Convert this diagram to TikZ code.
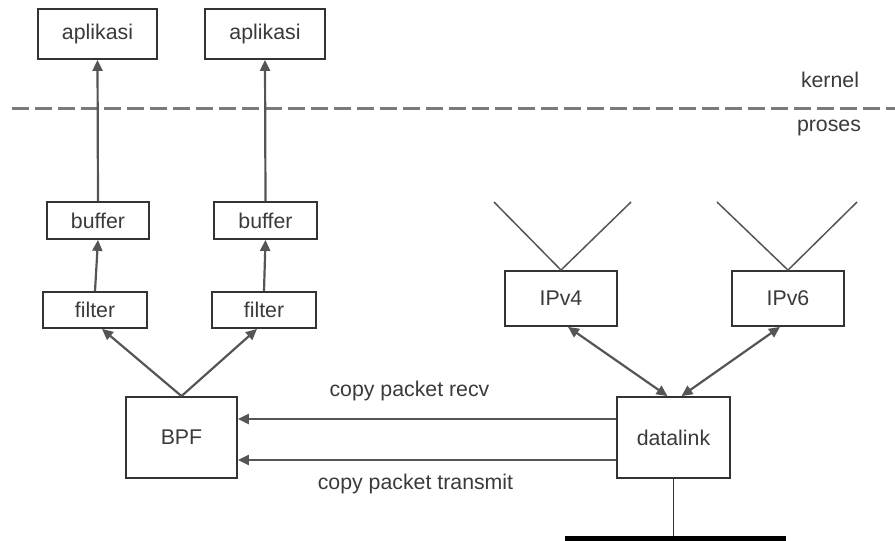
\documentclass[tikz,border=0pt]{standalone}
\usepackage{fontspec}
\setmainfont{Liberation Sans}
\usetikzlibrary{arrows.meta}
\definecolor{txt}{HTML}{3A3A3A}
\definecolor{edge}{HTML}{333333}
\definecolor{ln}{HTML}{555555}
\definecolor{dsh}{HTML}{7A7A7A}
\begin{document}
\begin{tikzpicture}[x=1pt,y=-1pt,
  box/.style={draw=edge,line width=1.8pt,fill=white,inner sep=0pt,text=txt,
    font=\fontsize{21.3}{25}\selectfont},
  lbl/.style={text=txt,inner sep=0pt,font=\fontsize{21.3}{25}\selectfont},
  arr/.style={draw=ln,line width=2.2pt,-{Triangle[length=11pt,width=10pt]}},
  darr/.style={draw=ln,line width=2.2pt,{Triangle[length=11pt,width=10pt]}-{Triangle[length=11pt,width=10pt]}},
  vline/.style={draw=ln,line width=1.5pt}]
\useasboundingbox (0,0) rectangle (895,541);
% nodes
\node[box,minimum width=119pt,minimum height=50pt] (app1) at (97.5,34) {aplikasi};
\node[box,minimum width=120pt,minimum height=50pt] (app2) at (265,34) {aplikasi};
\node[box,minimum width=102pt,minimum height=37pt] (buf1) at (98,220.5) {buffer};
\node[box,minimum width=103pt,minimum height=37pt] (buf2) at (265.5,220.5) {buffer};
\node[box,minimum width=104pt,minimum height=36pt] (fil1) at (95,310) {filter};
\node[box,minimum width=104pt,minimum height=36pt] (fil2) at (264,310) {filter};
\node[box,minimum width=111pt,minimum height=81pt] (bpf) at (181.5,437.5) {BPF};
\node[box,minimum width=113pt,minimum height=81pt] (dl) at (673.5,437.5) {datalink};
\node[box,minimum width=112pt,minimum height=55pt] (ip4) at (561,298.5) {IPv4};
\node[box,minimum width=112pt,minimum height=55pt] (ip6) at (788,298.5) {IPv6};
\node[fill=black,draw=none,minimum width=221pt,minimum height=10pt,inner sep=0pt] (bar) at (675.5,541) {};
% labels
\node[lbl] (kernel) at (830,80) {kernel};
\node[lbl] (proses) at (829,128) {proses};
\node[lbl] (recv) at (409.5,391) {copy packet recv};
\node[lbl] (trans) at (415.5,484) {copy packet transmit};
% dashed boundary
\coordinate (dl0) at (12,108);
\coordinate (dl1) at (895,108);
\draw[dsh,line width=3pt,dash pattern=on 17pt off 6pt] (dl0) -- (dl1);
% V lines
\coordinate (v4l) at (494,202);
\coordinate (v4r) at (631,202);
\coordinate (v6l) at (717,202);
\coordinate (v6r) at (857,202);
\draw[vline] (v4l) -- (ip4.north) -- (v4r);
\draw[vline] (v6l) -- (ip6.north) -- (v6r);
% arrows
\draw[arr] (buf1.north) -- (app1.south);
\draw[arr] (buf2.north) -- (app2.south);
\draw[arr] (fil1.north) -- (buf1.south);
\draw[arr] (fil2.north) -- (buf2.south);
\draw[arr] (bpf.north) -- ([xshift=7pt]fil1.south);
\draw[arr] (bpf.north) -- ([xshift=-7pt]fil2.south);
\draw[arr] ([yshift=18.5pt]dl.west) -- ([yshift=18.5pt]bpf.east);
\draw[arr] ([yshift=-22.5pt]dl.west) -- ([yshift=-22.5pt]bpf.east);
\draw[darr] ([xshift=7pt]ip4.south) -- ([xshift=-6pt]dl.north);
\draw[darr] ([xshift=-8pt]ip6.south) -- ([xshift=8pt]dl.north);
\draw[draw=edge,line width=1.5pt] (dl.south) -- (dl.south |- bar.north);
\end{tikzpicture}
\end{document}
